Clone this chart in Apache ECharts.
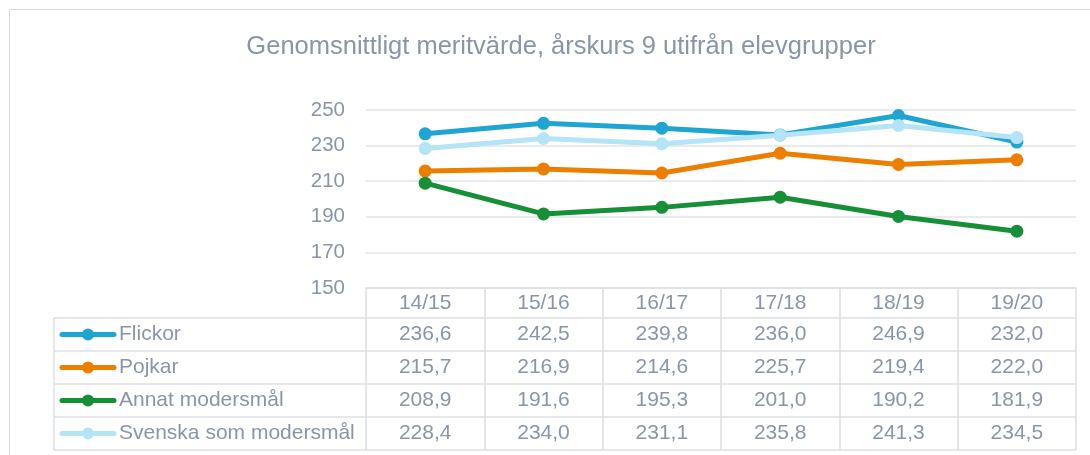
<!DOCTYPE html>
<html>
<head>
<meta charset="utf-8">
<script src="https://cdn.jsdelivr.net/npm/echarts@6/dist/echarts.min.js"></script>
<style>
  html, body { margin: 0; padding: 0; background: #fff; }
  #chart { width: 1090px; height: 455px; }
</style>
</head>
<body>
<div id="chart"></div>
<script>
// data
const categories = ['14/15', '15/16', '16/17', '17/18', '18/19', '19/20'];
const flickor = [236.6, 242.5, 239.8, 236.0, 246.9, 232.0];
const pojkar = [215.7, 216.9, 214.6, 225.7, 219.4, 222.0];
const annat = [208.9, 191.6, 195.3, 201.0, 190.2, 181.9];
const svenska = [228.4, 234.0, 231.1, 235.8, 241.3, 234.5];
const seriesNames = ['Flickor', 'Pojkar', 'Annat modersmål', 'Svenska som modersmål'];
const seriesValues = [flickor, pojkar, annat, svenska];
const yMin = 150, yMax = 250, yStep = 20;

const colors = ['#1FA5D1', '#EC7F00', '#178F37', '#B4E4F5'];
const textColor = '#8A96A8';
const lineColor = '#DCDFE4';
const font = 'Arial, "Liberation Sans", sans-serif';

// table layout (pixels)
const gridLeft = 366, gridRight = 1076, gridTop = 110, axisY = 288;
const rowLines = [318, 351, 384, 417, 450];
const tableLeft = 54;

let myChart = echarts.init(document.getElementById('chart'));

let option = {
  animation: false,
  title: {
    text: 'Genomsnittligt meritvärde, årskurs 9 utifrån elevgrupper',
    left: 556,
    top: 29,
    textAlign: 'center',
    textStyle: { fontFamily: font, fontSize: 25.5, fontWeight: 'normal', color: textColor }
  },
  grid: {
    left: gridLeft,
    right: 1090 - gridRight,
    top: gridTop,
    bottom: 455 - axisY,
    containLabel: false
  },
  xAxis: {
    type: 'category',
    data: categories,
    boundaryGap: true,
    axisLine: { show: true, lineStyle: { color: lineColor, width: 1.5 } },
    axisTick: { show: true, alignWithLabel: false, length: rowLines[rowLines.length - 1] - axisY, lineStyle: { color: lineColor, width: 1.5 } },
    axisLabel: { fontFamily: font, fontSize: 21, color: textColor, margin: 5, lineHeight: 21 }
  },
  yAxis: {
    type: 'value',
    min: yMin,
    max: yMax,
    interval: yStep,
    axisLine: { show: false },
    axisTick: { show: false },
    axisLabel: { fontFamily: font, fontSize: 20.5, color: textColor, margin: 21 },
    splitLine: { lineStyle: { color: '#E2E5E9', width: 1.5 } }
  },
  series: seriesNames.map(function (name, i) {
    return {
      name: name,
      type: 'line',
      data: seriesValues[i],
      symbol: 'circle',
      symbolSize: 13,
      color: colors[i],
      lineStyle: { width: 5, color: colors[i], cap: 'round', join: 'round' },
      itemStyle: { color: colors[i] },
      emphasis: { disabled: true },
      z: 3 + i
    };
  })
};
myChart.setOption(option);

// data table under the axis
let graphics = [];
// outer frame
graphics.push({
  type: 'rect', silent: true, z: -1,
  shape: { x: 9.5, y: 9.5, width: 1100, height: 500 },
  style: { fill: null, stroke: '#D9D9D9', lineWidth: 1 }
});
rowLines.forEach(function (y) {
  graphics.push({
    type: 'line', silent: true,
    shape: { x1: tableLeft, y1: y, x2: gridRight, y2: y },
    style: { stroke: lineColor, lineWidth: 1.5 }
  });
});
graphics.push({
  type: 'line', silent: true,
  shape: { x1: tableLeft, y1: rowLines[0], x2: tableLeft, y2: rowLines[rowLines.length - 1] },
  style: { stroke: lineColor, lineWidth: 1.5 }
});

seriesNames.forEach(function (name, i) {
  let cy = (rowLines[i] + rowLines[i + 1]) / 2;
  // legend key
  graphics.push({
    type: 'line', silent: true,
    shape: { x1: 62, y1: cy, x2: 114, y2: cy },
    style: { stroke: colors[i], lineWidth: 5, lineCap: 'round' }
  });
  graphics.push({
    type: 'circle', silent: true,
    shape: { cx: 88, cy: cy, r: 6 },
    style: { fill: colors[i] }
  });
  graphics.push({
    type: 'text', silent: true,
    x: 119, y: cy,
    style: { text: name, fontFamily: font, fontSize: 21, fill: textColor, verticalAlign: 'middle', align: 'left' }
  });
  // values
  seriesValues[i].forEach(function (v, j) {
    let px = myChart.convertToPixel({ xAxisIndex: 0 }, categories[j]);
    graphics.push({
      type: 'text', silent: true,
      x: px, y: cy,
      style: { text: v.toFixed(1).replace('.', ','), fontFamily: font, fontSize: 21, fill: textColor, verticalAlign: 'middle', align: 'center' }
    });
  });
});

myChart.setOption({ graphic: graphics });
</script>
</body>
</html>
